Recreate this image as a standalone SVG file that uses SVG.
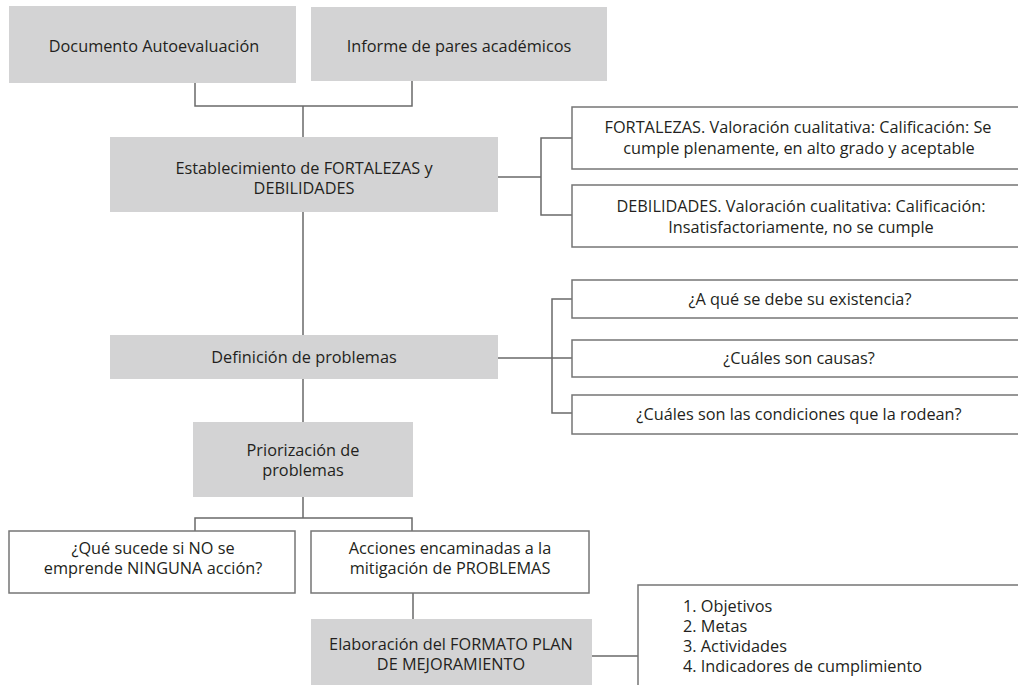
<svg xmlns="http://www.w3.org/2000/svg" width="1018" height="685" viewBox="0 0 1018 685">
<style>
.g{fill:#d3d3d4;stroke:none}
.w{fill:#ffffff;stroke:#767676;stroke-width:1.5}
.c{fill:none;stroke:#6a6a6a;stroke-width:1.5}
text{font-family:"Open Sans","Liberation Sans",sans-serif;font-size:16.3px;fill:#231f20}
.m{text-anchor:middle}
</style>
<rect width="1018" height="685" fill="#ffffff"/>
<g id="connectors">
<path class="c" d="M195,83 V106 H412 V80 M303,106 V137"/>
<path class="c" d="M498,177 H541 M572,138 H541 V215 H572"/>
<path class="c" d="M303,212 V335 M303,379 V422"/>
<path class="c" d="M498,358 H572 M572,299 H552 V413 H572"/>
<path class="c" d="M303,497 V518 M195,531 V518 H412 V531"/>
<path class="c" d="M413,593 V619 M592,656 H638"/>
</g>
<g id="n1"><rect class="g" x="9" y="6" width="287" height="77"/><text class="m" x="154" y="52">Documento Autoevaluación</text></g>
<g id="n2"><rect class="g" x="311" y="7" width="296" height="74"/><text class="m" x="459" y="52">Informe de pares académicos</text></g>
<g id="n3"><rect class="g" x="110" y="137" width="388" height="75"/><text class="m" x="304" y="174">Establecimiento de FORTALEZAS y</text><text class="m" x="304" y="194">DEBILIDADES</text></g>
<g id="n4"><rect class="w" x="572" y="107" width="460" height="62"/><text class="m" x="798" y="133">FORTALEZAS. Valoración cualitativa: Calificación: Se</text><text class="m" x="799" y="154">cumple plenamente, en alto grado y aceptable</text></g>
<g id="n5"><rect class="w" x="572" y="185" width="460" height="62"/><text class="m" x="801" y="212">DEBILIDADES. Valoración cualitativa: Calificación:</text><text class="m" x="801" y="233">Insatisfactoriamente, no se cumple</text></g>
<g id="n6"><rect class="g" x="110" y="335" width="388" height="44"/><text class="m" x="304" y="363">Definición de problemas</text></g>
<g id="n7"><rect class="w" x="572" y="280" width="460" height="38"/><text class="m" x="800" y="305">¿A qué se debe su existencia?</text></g>
<g id="n8"><rect class="w" x="572" y="340" width="460" height="37"/><text class="m" x="799" y="364">¿Cuáles son causas?</text></g>
<g id="n9"><rect class="w" x="572" y="395" width="460" height="39"/><text class="m" x="799" y="420">¿Cuáles son las condiciones que la rodean?</text></g>
<g id="n10"><rect class="g" x="193" y="422" width="220" height="75"/><text class="m" x="303" y="456">Priorización de</text><text class="m" x="303" y="476">problemas</text></g>
<g id="n11"><rect class="w" x="9" y="531" width="286" height="62"/><text class="m" x="153" y="554">¿Qué sucede si NO se</text><text class="m" x="153" y="574">emprende NINGUNA acción?</text></g>
<g id="n12"><rect class="w" x="311" y="531" width="278" height="62"/><text class="m" x="450" y="554">Acciones encaminadas a la</text><text class="m" x="450" y="574">mitigación de PROBLEMAS</text></g>
<g id="n13"><rect class="g" x="311" y="619" width="281" height="70"/><text class="m" x="451" y="650">Elaboración del FORMATO PLAN</text><text class="m" x="451" y="670">DE MEJORAMIENTO</text></g>
<g id="n14"><rect class="w" x="638" y="585" width="400" height="110"/><text x="683" y="612">1. Objetivos</text><text x="683" y="632">2. Metas</text><text x="683" y="652">3. Actividades</text><text x="683" y="672">4. Indicadores de cumplimiento</text></g>
</svg>
